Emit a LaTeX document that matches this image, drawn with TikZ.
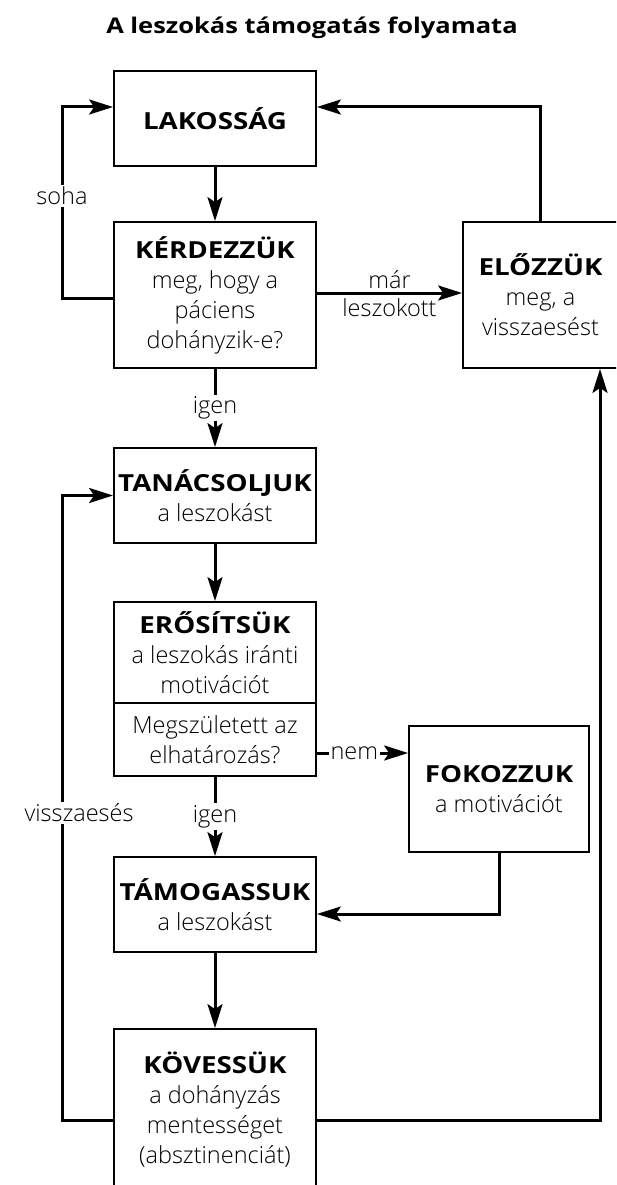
\documentclass[tikz,border=0pt]{standalone}
\usepackage{fontspec}
\setmainfont{Open Sans Light}[BoldFont={Open Sans Bold},BoldFeatures={FakeStretch=1.18}]
\usetikzlibrary{arrows.meta}

\begin{document}
\begin{tikzpicture}[x=1pt,y=-1pt,
  every node/.style={font=\fontsize{23.5}{30}\selectfont},
  box/.style={draw,line width=1.8pt,align=center,inner sep=0pt,minimum width=202pt},
  arr/.style={line width=3pt,-{Stealth[length=24pt,width=15pt,inset=5pt]}},
  lbl/.style={fill=white,inner sep=2pt}]
  \useasboundingbox (0,0) rectangle (616,1185);
  \clip (0,0) rectangle (616,1185);
  \node (title) at (312,28) {\fontsize{21.6}{26}\selectfont\bfseries A leszokás támogatás folyamata};
  \node (lak) [box,minimum height=95pt] at (215,118.5) {\textbf{LAKOSSÁG}};
  \node (kerd) [box,minimum height=146pt] at (215,295) {\textbf{KÉRDEZZÜK}\\meg, hogy a\\páciens\\dohányzik-e?};
  \node (eloz) [box,minimum width=155pt,minimum height=146pt] at (540.5,295) {\textbf{ELŐZZÜK}\\meg, a\\visszaesést};
  \node (tan) [box,minimum height=95pt] at (215,495.5) {\textbf{TANÁCSOLJUK}\\a leszokást};
  \node (eros) [box,minimum height=101pt] at (215,652.5) {\textbf{ERŐSÍTSÜK}\\a leszokás iránti\\motivációt};
  \node (dont) [box,minimum height=73pt] at (215,739.5) {Megszületett az\\elhatározás?};
  \node (fok) [box,minimum width=180pt,minimum height=126pt] at (499,789) {\textbf{FOKOZZUK}\\a motivációt};
  \node (tam) [box,minimum height=95pt] at (215,904.5) {\textbf{TÁMOGASSUK}\\a leszokást};
  \node (kov) [box,minimum height=162pt] at (215,1110) {\textbf{KÖVESSÜK}\\a dohányzás\\mentességet\\(absztinenciát)};
  \coordinate (lx) at (62,0);
  \coordinate (rx) at (600,0);
  \coordinate (nm) at ([yshift=-13.5pt]dont.east);
  \draw[arr] (lak) -- (kerd);
  \draw[arr] (kerd) -- node[lbl]{igen} (tan);
  \draw[arr] (tan) -- (eros);
  \draw[arr] (dont) -- node[lbl]{igen} (tam);
  \draw[arr] (tam) -- (kov);
  \draw[arr] ([yshift=2pt]kerd.east) -- node[above,inner sep=3pt]{már} node[below,inner sep=4pt]{leszokott} ([yshift=2pt]kerd.east -| eloz.west);
  \draw[arr] (eloz.north) |- ([yshift=11.5pt]lak.east);
  \draw[arr] ([yshift=-3pt]kerd.west) -| (lx |- 0,196) node[lbl]{soha} |- ([yshift=11.5pt]lak.west);
  \draw[arr] (nm) -- node[lbl,pos=.41]{nem} (nm -| fok.west);
  \draw[arr] (fok.south) |- ([yshift=-9.5pt]tam.east);
  \draw[arr] ([yshift=-10pt]kov.west) -| (lx |- 0,813) node[lbl,xshift=17pt]{visszaesés} |- (tan.west);
  \draw[arr] ([yshift=-10pt]kov.east) -| (eloz.south -| rx);
\end{tikzpicture}
\end{document}
